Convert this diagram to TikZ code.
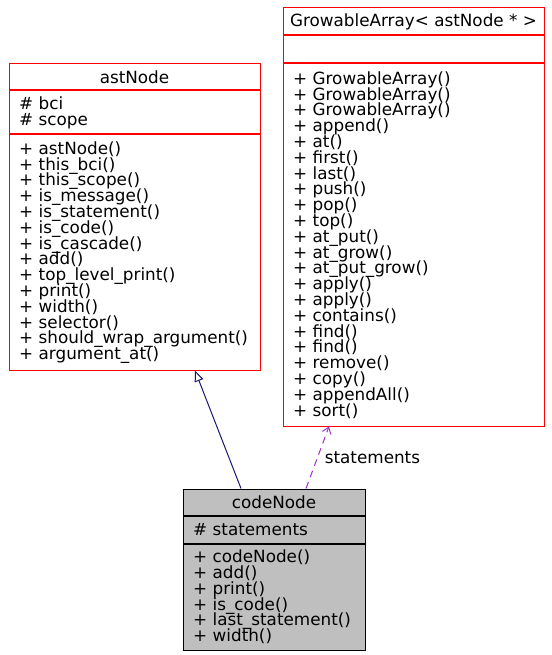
\documentclass[tikz,border=0pt]{standalone}
\usepackage{fontspec}
\newfontfamily\umlfont{DejaVu Sans}
\newcommand\umltext{\umlfont\fontsize{16.8}{15.8}\selectfont\lineskiplimit=-20pt\relax}
\usetikzlibrary{arrows.meta,positioning}
\definecolor{ClassEdge}{HTML}{FF0000}
\definecolor{FocusFill}{HTML}{BFBFBF}
\definecolor{BaseLink}{HTML}{191970}
\definecolor{UseLink}{HTML}{9A32CD}
\tikzset{
  every node/.style={font=\umltext, text=black},
  heading/.style={draw=ClassEdge, line width=1pt, inner xsep=4pt, inner ysep=0pt, align=center, anchor=north west},
  compart/.style={draw=ClassEdge, line width=1pt, inner xsep=10pt, inner ysep=0pt, align=left},
  focus/.style={draw=black, fill=FocusFill},
  inherit/.style={-{Triangle[open,length=11pt,width=9pt]}, draw=BaseLink, line width=1pt},
  usage/.style={-{Straight Barb[length=6pt,width=9pt]}, draw=UseLink, line width=1pt, dash pattern=on 7pt off 5pt},
}
\begin{document}
\begin{tikzpicture}[x=1pt,y=-1pt]
  \useasboundingbox (0,0) rectangle (551,655);
  % base class
  \node[heading, minimum width=251pt, minimum height=26pt] (astTitle) at (8.5,63.5) {astNode};
  \node[compart, text width=231pt, minimum height=43pt, below=0pt of astTitle] (astAttr) {\# bci\\\# scope};
  \node[compart, text width=231pt, minimum height=235pt, below=0pt of astAttr] (astOps) {%
    + astNode()\\+ this\_bci()\\+ this\_scope()\\+ is\_message()\\+ is\_statement()\\%
    + is\_code()\\+ is\_cascade()\\+ add()\\+ top\_level\_print()\\+ print()\\%
    + width()\\+ selector()\\+ should\_wrap\_argument()\\+ argument\_at()};
  % container class
  \node[heading, minimum width=261pt, minimum height=27pt] (growTitle) at (282.5,7.5) {GrowableArray< astNode * >};
  \node[compart, text width=241pt, minimum height=27pt, below=0pt of growTitle] (growAttr) {};
  \node[compart, text width=241pt, minimum height=362pt, below=0pt of growAttr] (growOps) {%
    + GrowableArray()\\+ GrowableArray()\\+ GrowableArray()\\+ append()\\+ at()\\%
    + first()\\+ last()\\+ push()\\+ pop()\\+ top()\\+ at\_put()\\+ at\_grow()\\%
    + at\_put\_grow()\\+ apply()\\+ apply()\\+ contains()\\+ find()\\+ find()\\%
    + remove()\\+ copy()\\+ appendAll()\\+ sort()};
  % documented class
  \node[heading, focus, minimum width=182pt, minimum height=26pt] (codeTitle) at (182.5,488.5) {codeNode};
  \node[compart, focus, text width=162pt, minimum height=27pt, below=0pt of codeTitle] (codeAttr) {\# statements};
  \node[compart, focus, text width=162pt, minimum height=106pt, below=0pt of codeAttr] (codeOps) {%
    + codeNode()\\+ add()\\+ print()\\+ is\_code()\\+ last\_statement()\\+ width()};
  % relations
  \draw[inherit] ([xshift=-33pt]codeTitle.north) -- ([xshift=60.5pt]astOps.south);
  \draw[usage] ([xshift=32pt]codeTitle.north) -- ([xshift=-84.5pt]growOps.south)
    node[midway, anchor=west, xshift=3.5pt] (stLabel) {statements};
\end{tikzpicture}
\end{document}
